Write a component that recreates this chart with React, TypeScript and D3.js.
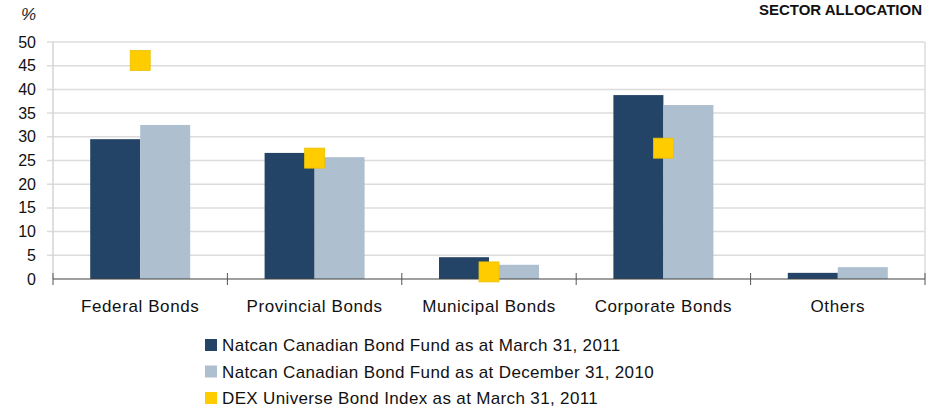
import React from "react";
import * as d3 from "d3";

const categories = ["Federal Bonds", "Provincial Bonds", "Municipal Bonds", "Corporate Bonds", "Others"];
const fundMar2011 = [29.5, 26.6, 4.6, 38.8, 1.3];
const fundDec2010 = [32.5, 25.7, 3.0, 36.7, 2.5];
const dexIndex: (number | null)[] = [46.1, 25.5, 1.5, 27.6, null];
const yTicks = [0, 5, 10, 15, 20, 25, 30, 35, 40, 45, 50];
const legendLabels = [
  "Natcan Canadian Bond Fund as at March 31, 2011",
  "Natcan Canadian Bond Fund as at December 31, 2010",
  "DEX Universe Bond Index as at March 31, 2011",
];
const colors = ["#234466", "#aebfcf", "#ffcc00"];

const W = 929;
const H = 409;
const left = 53;
const right = 925;
const top = 42;
const bottom = 279;
const FONT = "'Liberation Sans', Arial, sans-serif";

export default function App() {
  const x = d3
    .scaleBand<string>()
    .domain(categories)
    .range([left, right])
    .paddingInner(0.4266)
    .paddingOuter(0.2133);
  const sub = d3.scaleBand<string>().domain(["a", "b"]).range([0, x.bandwidth()]);
  const y = d3.scaleLinear().domain([0, 50]).range([bottom, top]);
  const step = (right - left) / categories.length;
  const sq = 20;

  return (
    <svg
      width={W}
      height={H}
      style={{ position: "absolute", left: 0, top: 0, background: "#fff" }}
      fontFamily={FONT}
    >
      {/* title */}
      <text x={922} y={15} textAnchor="end" fontSize={15} fontWeight="bold" fill="#111">
        SECTOR ALLOCATION
      </text>
      <text x={21} y={20} fontSize={17} fontStyle="italic" fill="#222">
        %
      </text>

      {/* gridlines */}
      {yTicks.map((t) =>
        t === 0 ? null : (
          <line key={t} x1={left - 6} x2={right} y1={y(t)} y2={y(t)} stroke="#dcdcdc" strokeWidth={1.5} />
        )
      )}
      <line x1={left} x2={left} y1={top} y2={bottom} stroke="#d4d4d4" strokeWidth={1.5} />
      <line x1={right} x2={right} y1={top} y2={bottom} stroke="#dcdcdc" strokeWidth={1.5} />

      {/* y tick labels */}
      {yTicks.map((t) => (
        <text key={t} x={36} y={y(t) + 5.5} textAnchor="end" fontSize={16} fill="#111">
          {t}
        </text>
      ))}

      {/* bars */}
      {categories.map((c, i) => (
        <g key={c}>
          <rect
            x={(x(c) as number) + (sub("a") as number)}
            y={y(fundMar2011[i])}
            width={sub.bandwidth()}
            height={bottom - y(fundMar2011[i])}
            fill={colors[0]}
          />
          <rect
            x={(x(c) as number) + (sub("b") as number)}
            y={y(fundDec2010[i])}
            width={sub.bandwidth()}
            height={bottom - y(fundDec2010[i])}
            fill={colors[1]}
          />
        </g>
      ))}

      {/* axis */}
      <line x1={left} x2={right} y1={bottom} y2={bottom} stroke="#404040" strokeWidth={1.2} />
      {d3.range(categories.length + 1).map((k) => (
        <line
          key={k}
          x1={left + k * step}
          x2={left + k * step}
          y1={bottom - 6}
          y2={bottom + 6}
          stroke="#555"
          strokeWidth={1}
        />
      ))}

      {/* index markers */}
      {categories.map((c, i) => {
        const v = dexIndex[i];
        if (v == null) return null;
        const cx = (x(c) as number) + x.bandwidth() / 2;
        return (
          <rect
            key={c}
            x={cx - sq / 2}
            y={y(v) - sq / 2}
            width={sq}
            height={sq}
            fill={colors[2]}
            stroke="#e8c200"
            strokeWidth={0.8}
          />
        );
      })}

      {/* x labels */}
      {categories.map((c) => (
        <text
          key={c}
          x={(x(c) as number) + x.bandwidth() / 2}
          y={312}
          textAnchor="middle"
          fontSize={17}
          letterSpacing={0.6}
          fill="#111"
        >
          {c}
        </text>
      ))}

      {/* legend */}
      {legendLabels.map((l, i) => {
        const by = 351 + i * 26.5;
        return (
          <g key={l}>
            <rect x={205} y={by - 12} width={12} height={12} fill={colors[i]} />
            <text x={222} y={by} fontSize={17} letterSpacing={0.35} fill="#111">
              {l}
            </text>
          </g>
        );
      })}
    </svg>
  );
}
